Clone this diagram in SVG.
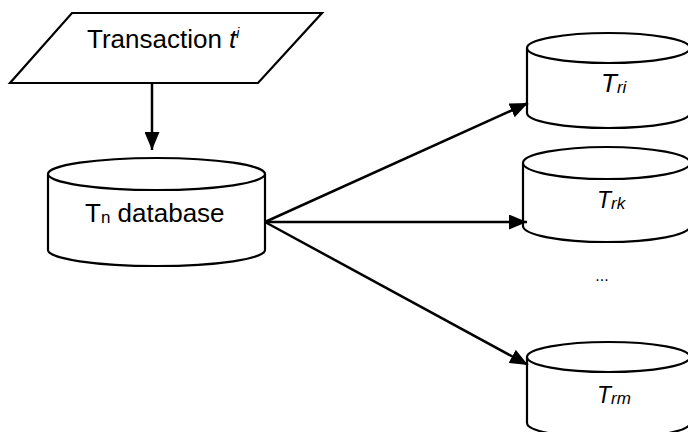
<svg xmlns="http://www.w3.org/2000/svg" width="688" height="432" viewBox="0 0 688 432">
<defs>
<marker id="ah" markerUnits="userSpaceOnUse" markerWidth="19" markerHeight="15" refX="18" refY="7.5" orient="auto">
<path d="M0,0 L18,7.5 L0,15 z" fill="#000"/>
</marker>
<style>
.sh{fill:#fff;stroke:#000;stroke-width:2.2}
.ln{stroke:#000;stroke-width:2.5;fill:none}
.t{font-family:"Liberation Sans",Arial,sans-serif;fill:#000}
.i{font-style:italic}
</style>
</defs>
<rect width="688" height="432" fill="#fff"/>
<g id="transaction">
<polygon class="sh" points="72,13 322,13 258,83 10,83"/>
<text class="t" x="87" y="48" font-size="26">Transaction <tspan class="i">t</tspan><tspan class="i" font-size="14" dy="-10">i</tspan></text>
</g>
<g id="tn-database">
<path class="sh" d="M48,174 L48,250 A108.5,16 0 0 0 265,250 L265,174"/>
<ellipse class="sh" cx="156.5" cy="174" rx="108.5" ry="16"/>
<text class="t" x="85" y="222" font-size="26">T<tspan font-size="17" dy="1">n</tspan><tspan dy="-1"> database</tspan></text>
</g>
<g id="tri">
<path class="sh" d="M527,48 L527,113 A81.5,15 0 0 0 690,113 L690,48"/>
<ellipse class="sh" cx="608.5" cy="48" rx="81.5" ry="15"/>
<text class="t i" x="601" y="92" font-size="26">T<tspan font-size="17" dy="1">ri</tspan></text>
</g>
<g id="trk">
<path class="sh" d="M523,163 L523,226 A83.5,16 0 0 0 690,226 L690,163"/>
<ellipse class="sh" cx="606.5" cy="163" rx="83.5" ry="16"/>
<text class="t i" x="597" y="208" font-size="23">T<tspan font-size="17" dy="1">rk</tspan></text>
</g>
<g id="ellipsis">
<text class="t" x="602" y="281" font-size="16" text-anchor="middle">...</text>
</g>
<g id="trm">
<path class="sh" d="M527,357 L527,423 A81.5,15 0 0 0 690,423 L690,357"/>
<ellipse class="sh" cx="608.5" cy="357" rx="81.5" ry="15"/>
<text class="t i" x="597" y="403" font-size="23">T<tspan font-size="17" dy="1">rm</tspan></text>
</g>
<g id="connectors">
<line class="ln" x1="152" y1="83" x2="152" y2="150" marker-end="url(#ah)"/>
<line class="ln" x1="265" y1="222" x2="528" y2="103" marker-end="url(#ah)"/>
<line class="ln" x1="265" y1="222" x2="527" y2="222" marker-end="url(#ah)"/>
<line class="ln" x1="265" y1="222" x2="528" y2="365" marker-end="url(#ah)"/>
</g>
</svg>
